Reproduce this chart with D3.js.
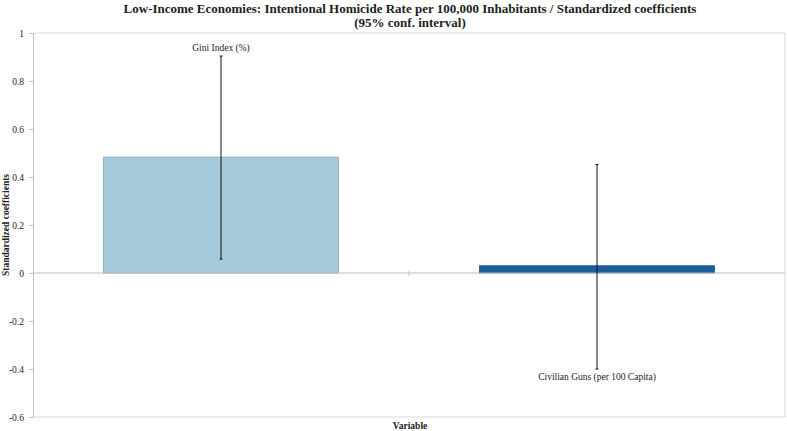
<!DOCTYPE html>
<html>
<head>
<meta charset="utf-8">
<script src="https://cdn.jsdelivr.net/npm/d3@7"></script>
<style>
  body { margin: 0; background: #fff; }
  svg text { font-family: "Liberation Serif", "DejaVu Serif", serif; }
</style>
</head>
<body>
<svg id="chart" width="787" height="431"></svg>
<script>
// data
var categories = ["Gini Index (%)", "Civilian Guns (per 100 Capita)"];
var coefficients = [0.483, 0.030];
var lowerBounds = [0.058, -0.400];
var upperBounds = [0.904, 0.452];
var yTicks = [-0.6, -0.4, -0.2, 0, 0.2, 0.4, 0.6, 0.8, 1];
var barColors = ["#a6cbdc", "#1b5f9c"];
var barStrokes = ["#7fa6b8", "#174f82"];

var width = 787, height = 431;
var margin = {top: 33, right: 2, bottom: 14, left: 33};

var svg = d3.select("#chart");

var x = d3.scaleBand()
    .domain(categories)
    .range([margin.left, width - margin.right])
    .paddingInner(0.375)
    .paddingOuter(0.1875);

var y = d3.scaleLinear()
    .domain([-0.6, 1])
    .range([height - margin.bottom, margin.top]);

// plot frame (top, right, bottom)
svg.append("path")
    .attr("d", "M" + margin.left + "," + y(1) + "H" + (width - margin.right) +
        "V" + y(-0.6) + "H" + margin.left)
    .attr("fill", "none")
    .attr("stroke", "#d9d9d9")
    .attr("stroke-width", 1);

// y axis
var yAxis = d3.axisLeft(y)
    .tickValues(yTicks)
    .tickSize(4)
    .tickFormat(function(d) { return String(+d.toFixed(1)); });

var gy = svg.append("g")
    .attr("transform", "translate(" + margin.left + ",0)")
    .call(yAxis)
    .attr("font-family", null)
    .attr("font-size", null);
gy.select(".domain").attr("stroke", "#bfbfbf");
gy.selectAll(".tick line").attr("stroke", "#bfbfbf");
gy.selectAll(".tick text")
    .attr("font-size", 9.5)
    .attr("fill", "#222")
    .attr("dx", -2);

// bars
svg.selectAll("rect.bar").data(coefficients).enter().append("rect")
    .attr("class", "bar")
    .attr("x", function(d, i) { return x(categories[i]); })
    .attr("width", x.bandwidth())
    .attr("y", function(d) { return y(Math.max(0, d)); })
    .attr("height", function(d) { return Math.abs(y(d) - y(0)); })
    .attr("fill", function(d, i) { return barColors[i]; })
    .attr("stroke", function(d, i) { return barStrokes[i]; })
    .attr("stroke-width", 0.8);

// zero axis with category divider tick
svg.append("line")
    .attr("x1", margin.left).attr("x2", width - margin.right)
    .attr("y1", y(0)).attr("y2", y(0))
    .attr("stroke", "#bfbfbf").attr("stroke-width", 1.2);

var midX = margin.left + (width - margin.left - margin.right) / 2;
svg.append("line")
    .attr("x1", midX).attr("x2", midX)
    .attr("y1", y(0) - 2).attr("y2", y(0) + 3)
    .attr("stroke", "#bfbfbf");

// error bars
var cx = function(i) { return x(categories[i]) + x.bandwidth() / 2; };
categories.forEach(function(c, i) {
    svg.append("line")
        .attr("x1", cx(i)).attr("x2", cx(i))
        .attr("y1", y(upperBounds[i])).attr("y2", y(lowerBounds[i]))
        .attr("stroke", "#111").attr("stroke-width", 1);
    [upperBounds[i], lowerBounds[i]].forEach(function(v) {
        svg.append("line")
            .attr("x1", cx(i) - 1.5).attr("x2", cx(i) + 1.5)
            .attr("y1", y(v)).attr("y2", y(v))
            .attr("stroke", "#111").attr("stroke-width", 1);
    });
});

// point labels
svg.append("text")
    .attr("x", cx(0)).attr("y", y(upperBounds[0]) - 5)
    .attr("text-anchor", "middle")
    .attr("font-size", 9.5).attr("fill", "#222")
    .text(categories[0]);

svg.append("text")
    .attr("x", cx(1)).attr("y", y(lowerBounds[1]) + 11)
    .attr("text-anchor", "middle")
    .attr("font-size", 9.5).attr("fill", "#222")
    .text(categories[1]);

// titles
svg.append("text")
    .attr("x", 410).attr("y", 13)
    .attr("text-anchor", "middle")
    .attr("font-size", 13).attr("font-weight", "bold").attr("fill", "#222")
    .text("Low-Income Economies: Intentional Homicide Rate per 100,000 Inhabitants / Standardized coefficients");
svg.append("text")
    .attr("x", 410).attr("y", 27)
    .attr("text-anchor", "middle")
    .attr("font-size", 13).attr("font-weight", "bold").attr("fill", "#222")
    .text("(95% conf. interval)");

svg.append("text")
    .attr("x", 410).attr("y", 429)
    .attr("text-anchor", "middle")
    .attr("font-size", 9.5).attr("font-weight", "bold").attr("fill", "#222")
    .text("Variable");

svg.append("text")
    .attr("transform", "translate(6," + y(0.2) + ") rotate(-90)")
    .attr("text-anchor", "middle")
    .attr("dy", "0.35em")
    .attr("font-size", 9.5).attr("font-weight", "bold").attr("fill", "#222")
    .text("Standardized coefficients");
</script>
</body>
</html>
